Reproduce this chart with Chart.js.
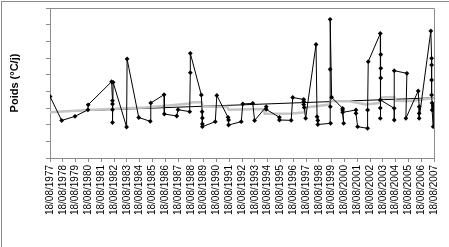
<!DOCTYPE html>
<html>
<head>
<meta charset="utf-8">
<script src="https://cdn.jsdelivr.net/npm/chart.js@4.4.0/dist/chart.umd.min.js"></script>
<style>
  html, body { margin: 0; padding: 0; background: #fff; }
  #wrap { position: relative; width: 449px; height: 247px; overflow: hidden; }
  #chart { position: absolute; left: 0; top: 0; }
  #frame { position: absolute; left: 1px; top: 1px; width: 460px; height: 260px;
           border-left: 1px solid #8c8c8c; border-top: 1px solid #8c8c8c; pointer-events: none; }
</style>
</head>
<body>
<div id="wrap">
  <canvas id="chart" width="449" height="247"></canvas>
  <div id="frame"></div>
</div>
<script>
// 18/08/1977 as a decimal year, start of the date axis
const startYear = 1977.627;

const tickLabels = [
  '18/08/1977', '18/08/1978', '18/08/1979', '18/08/1980', '18/08/1981', '18/08/1982',
  '18/08/1983', '18/08/1984', '18/08/1985', '18/08/1986', '18/08/1987', '18/08/1988',
  '18/08/1989', '18/08/1990', '18/08/1991', '18/08/1992', '18/08/1993', '18/08/1994',
  '18/08/1995', '18/08/1996', '18/08/1997', '18/08/1998', '18/08/1999', '18/08/2000',
  '18/08/2001', '18/08/2002', '18/08/2003', '18/08/2004', '18/08/2005', '18/08/2006',
  '18/08/2007'
];

// observed weights, in date order
const obsYear = [
  1977.63, 1978.54, 1979.58, 1980.59, 1980.61,
  1982.44, 1982.51, 1982.51, 1982.51, 1982.51, 1982.56,
  1983.61, 1983.65, 1984.56, 1985.46, 1985.50,
  1986.54, 1986.56, 1987.53, 1987.63,
  1988.54, 1988.59, 1988.59,
  1989.45, 1989.51, 1989.53, 1989.53, 1989.53,
  1990.54, 1990.66, 1991.54, 1991.58, 1991.58,
  1992.57, 1992.69, 1993.47, 1993.61,
  1994.52, 1994.52, 1995.55, 1995.55, 1996.47, 1996.59,
  1997.45, 1997.45, 1997.45, 1997.49, 1997.60,
  1998.41, 1998.49, 1998.55, 1998.55,
  1999.55, 1999.53, 1999.51, 1999.51, 1999.63,
  2000.49, 2000.49, 2000.57, 2000.49,
  2001.53, 2001.53, 2001.66,
  2002.44, 2002.44, 2002.49,
  2003.43, 2003.47, 2003.47, 2003.47, 2003.43, 2003.43, 2003.43,
  2004.52, 2004.52, 2004.52,
  2005.51, 2005.43,
  2006.39, 2006.47, 2006.47, 2006.47,
  2007.38, 2007.44, 2007.44, 2007.44, 2007.44, 2007.48, 2007.48, 2007.56, 2007.58
];
const obsValue = [
  3.69, 2.25, 2.50, 2.89, 3.19,
  4.58, 3.44, 3.24, 2.90, 2.13, 4.54,
  1.86, 5.94, 2.43, 2.20, 3.30,
  3.80, 2.64, 2.52, 2.90,
  2.78, 5.12, 6.28,
  3.78, 2.78, 2.40, 2.04, 1.88,
  2.18, 3.75, 2.44, 2.28, 1.98,
  2.18, 3.24, 3.28, 2.25,
  3.08, 2.92, 2.44, 2.28, 2.26, 3.63,
  3.51, 3.38, 3.21, 3.03, 2.38,
  6.81, 2.48, 2.25, 2.01,
  2.08, 3.08, 5.32, 8.32, 3.64,
  2.98, 2.88, 2.08, 2.74,
  2.88, 2.68, 1.88,
  1.78, 2.88, 5.78,
  7.47, 6.21, 5.38, 4.80, 2.38, 3.00, 3.48,
  2.98, 2.28, 5.24,
  5.08, 2.38,
  4.02, 3.08, 2.68, 2.38,
  7.62, 5.98, 5.58, 4.68, 3.78, 3.30, 2.88, 1.88, 3.12
];

// smoothed weight (grey line)
const avgYear = [
  1977.63, 1980.59, 1985.03, 1987.11, 1988.54, 1988.67, 1989.45, 1989.58,
  1991.50, 1991.58, 1994.25, 1994.42, 1996.59, 1997.50, 1997.63, 1999.45,
  1999.58, 2001.01, 2002.31, 2003.35, 2003.48, 2004.52, 2004.65, 2005.69, 2007.60
];
const avgValue = [
  2.74, 2.88, 3.03, 3.16, 3.27, 3.33, 3.36, 3.09,
  3.06, 2.90, 2.94, 2.65, 2.67, 2.74, 3.03, 3.21,
  3.40, 3.40, 3.21, 3.30, 3.63, 3.66, 3.44, 3.40, 3.60
];

// linear trend
const trendYear = [1977.63, 2007.63];
const trendValue = [2.77, 3.61];

const toPoints = (xs, ys) => xs.map((x, i) => ({ x, y: ys[i] }));

const frameBorder = {
  id: 'frameBorder',
  beforeDatasetsDraw(chart) {
    const { ctx, chartArea: a } = chart;
    ctx.save();
    ctx.strokeStyle = '#8c8c8c';
    ctx.lineWidth = 1;
    ctx.beginPath();
    ctx.moveTo(Math.round(a.left) + 0.5, Math.round(a.top) + 0.5);
    ctx.lineTo(Math.round(a.right) + 0.5, Math.round(a.top) + 0.5);
    ctx.lineTo(Math.round(a.right) + 0.5, Math.round(a.bottom) + 0.5);
    ctx.stroke();
    ctx.restore();
  }
};

const ctx = document.getElementById('chart').getContext('2d');

new Chart(ctx, {
  type: 'scatter',
  data: {
    datasets: [
      {
        data: toPoints(obsYear, obsValue),
        showLine: true,
        borderColor: '#000',
        borderWidth: 1,
        pointStyle: 'rectRot',
        pointRadius: 2.4,
        pointBackgroundColor: '#000',
        pointBorderColor: '#000',
        pointBorderWidth: 0
      },
      {
        data: toPoints(avgYear, avgValue),
        showLine: true,
        borderColor: '#c4c4c4',
        borderWidth: 2.5,
        pointRadius: 0
      },
      {
        data: toPoints(trendYear, trendValue),
        showLine: true,
        borderColor: '#000',
        borderWidth: 1,
        pointRadius: 0
      }
    ]
  },
  options: {
    responsive: false,
    animation: false,
    devicePixelRatio: 1,
    layout: {
      padding: { top: 8, right: 14, bottom: 0, left: 0 }
    },
    plugins: {
      legend: { display: false },
      tooltip: { enabled: false }
    },
    scales: {
      x: {
        type: 'linear',
        min: startYear,
        max: startYear + 30,
        afterBuildTicks: (scale) => {
          scale.ticks = tickLabels.map((_, i) => ({ value: startYear + i }));
        },
        afterFit: (scale) => {
          scale.height = 89;
        },
        ticks: {
          autoSkip: false,
          minRotation: 90,
          maxRotation: 90,
          padding: 3,
          color: '#000',
          font: { family: '"Liberation Sans", Arial, sans-serif', size: 10 },
          callback: (value, index) => tickLabels[index]
        },
        grid: {
          drawOnChartArea: false,
          tickLength: 4,
          color: '#8c8c8c'
        },
        border: { color: '#8c8c8c' }
      },
      y: {
        min: 0,
        max: 9,
        ticks: {
          stepSize: 1,
          display: false
        },
        afterFit: (scale) => {
          scale.width = 50;
        },
        grid: {
          drawOnChartArea: false,
          tickLength: 4,
          color: '#8c8c8c'
        },
        border: { color: '#8c8c8c' },
        title: {
          display: true,
          text: 'Poids (°C/j)',
          color: '#000',
          padding: { top: 8, bottom: 0 },
          font: { family: '"Liberation Sans", Arial, sans-serif', size: 11, weight: 'bold' }
        }
      }
    }
  },
  plugins: [frameBorder]
});
</script>
</body>
</html>
